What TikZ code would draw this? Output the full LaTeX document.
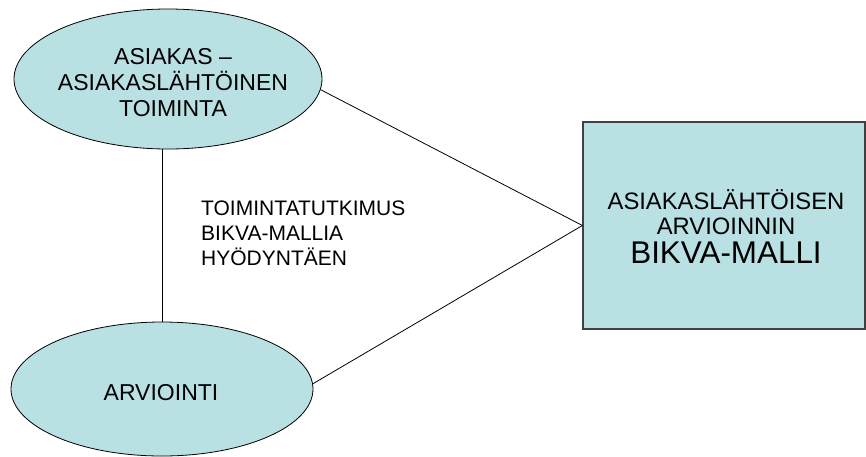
\documentclass[tikz,border=0pt]{standalone}
\usepackage{fontspec}
\setmainfont{Liberation Sans}
\usetikzlibrary{shapes.geometric}
\definecolor{fillc}{RGB}{185,224,227}
\begin{document}
\begin{tikzpicture}[x=1pt,y=-1pt,
  ell/.style={ellipse,draw=black,line width=0.8pt,fill=fillc,inner sep=0pt},
  txt/.style={align=center,font=\fontsize{23}{26}\selectfont,inner sep=0pt},
  conn/.style={draw=black,line width=0.8pt}]
\useasboundingbox (0,0) rectangle (866,456);
\node[ell,minimum width=308,minimum height=140] (top) at (168,79) {};
\node[ell,minimum width=302,minimum height=134] (bot) at (162,389) {};
\node[draw=black!75,line width=1.2pt,fill=fillc,minimum width=282,minimum height=207,inner sep=0pt] (box) at (724,225.5) {};
\node[txt] (toptxt) at (173,83) {ASIAKAS –\\ASIAKASLÄHTÖINEN\\TOIMINTA};
\node[txt] (bottxt) at (161,393) {ARVIOINTI};
\node[txt,align=left,font=\fontsize{21}{25}\selectfont,anchor=west] (mid) at (201,233) {TOIMINTATUTKIMUS\\BIKVA-MALLIA\\HYÖDYNTÄEN};
\node[txt,font=\fontsize{23.8}{25}\selectfont] (boxtxt1) at (726,212) {ASIAKASLÄHTÖISEN\\ARVIOINNIN};
\node[txt,font=\fontsize{31.4}{32}\selectfont] (boxtxt2) at (726,253) {BIKVA-MALLI};
\coordinate (bl) at (box.west);
\draw[conn] (top.south -| 162,0) -- (bot.north -| 162,0);
\draw[conn] (top.-4) -- (bl);
\draw[conn] (bot.2) -- (bl);
\end{tikzpicture}
\end{document}
